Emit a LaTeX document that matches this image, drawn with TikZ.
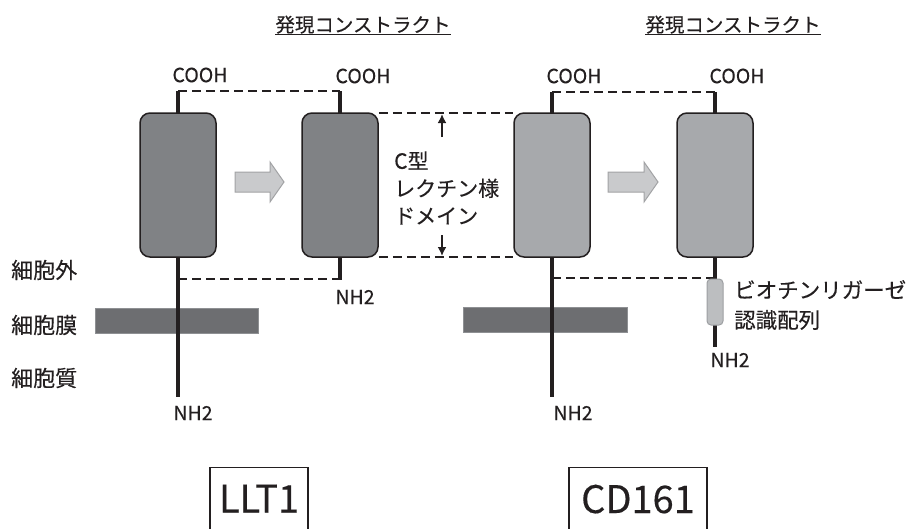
\documentclass[tikz,border=0pt]{standalone}
\usepackage{fontspec}
\setmainfont{Noto Sans CJK JP}[FakeBold=0.25]
\usetikzlibrary{arrows.meta}
\definecolor{darkbox}{HTML}{808285}
\definecolor{lightbox}{HTML}{A7A9AC}
\definecolor{membrane}{HTML}{6D6E71}
\definecolor{membraneedge}{HTML}{8E9093}
\definecolor{arrowfill}{HTML}{C9CACC}
\definecolor{arrowedge}{HTML}{A2A3A5}
\definecolor{pillfill}{HTML}{BCBEC0}
\definecolor{pilledge}{HTML}{9D9FA2}
\definecolor{ink}{HTML}{231F20}
\tikzset{
  protein/.style={rectangle, rounded corners=10, minimum width=76, minimum height=144, draw=ink, line width=1.5, inner sep=0},
  chainline/.style={line width=3.4, draw=ink},
  dashconn/.style={line width=2.1, draw=ink, dash pattern=on 9pt off 5pt},
  bigarrow/.style={draw=arrowedge, fill=arrowfill, line width=1},
  memb/.style={draw=membraneedge, fill=membrane, line width=0.8},
  chem/.style={font=\fontsize{19.5}{22}\selectfont, text=ink, inner sep=0},
  jp/.style={font=\fontsize{22}{27.5}\selectfont, text=ink, inner sep=0, align=left},
  header/.style={font=\fontsize{19.5}{22}\selectfont, text=ink, inner sep=0},
  namebox/.style={draw=ink, line width=1.3, font=\fontsize{38}{42}\selectfont, text=ink, anchor=north, inner ysep=17, text depth=40},
  dimarrow/.style={line width=1.8, draw=ink, -{Latex[length=9pt,width=9pt]}}
}
\begin{document}
\begin{tikzpicture}[x=1pt,y=-1pt]
\clip (0,0) rectangle (910,528);
\fill[white] (0,0) rectangle (910,528);

% headers
\node[header, anchor=base] (h1) at (363,32) {発現コンストラクト};
\node[header, anchor=base] (h2) at (733,32) {発現コンストラクト};
\draw[line width=1.4, ink] ([yshift=-2.5pt]h1.base west) -- ([yshift=-2.5pt]h1.base east);
\draw[line width=1.4, ink] ([yshift=-2.5pt]h2.base west) -- ([yshift=-2.5pt]h2.base east);

% chain coordinates
\coordinate (l1t) at (178,91);  \coordinate (l1b) at (178,397);
\coordinate (l2t) at (340,91);  \coordinate (l2b) at (340,280);
\coordinate (l3t) at (552,92);  \coordinate (l3b) at (552,397);
\coordinate (l4t) at (715,92);  \coordinate (l4b) at (715,347);

% membranes
\draw[memb] (95,308) rectangle (258,333);
\draw[memb] (463,307) rectangle (627,332);

% chains
\draw[chainline] (l1t) -- (l1b);
\draw[chainline] (l2t) -- (l2b);
\draw[chainline] (l3t) -- (l3b);
\draw[chainline] (l4t) -- (l4b);

% dashed guides
\coordinate (d1b) at (178,279); \coordinate (d2b) at (340,279);
\coordinate (d3b) at (552,278); \coordinate (d4b) at (715,278);
\draw[dashconn] (l1t) -- (l2t);
\draw[dashconn] (d1b) -- (d2b);
\draw[dashconn] (l3t) -- (l4t);
\draw[dashconn] (d3b) -- (d4b);

% protein domains
\node[protein, fill=darkbox] (b1) at (178,185) {};
\node[protein, fill=darkbox] (b2) at (340,185) {};
\node[protein, fill=lightbox] (b3) at (552,185) {};
\node[protein, fill=lightbox] (b4) at (715,185) {};

% domain guide lines
\draw[dashconn] ([yshift=-1pt]b2.north east) -- ([yshift=-1pt]b3.north west);
\draw[dashconn] ([yshift=1pt]b2.south east) -- ([yshift=1pt]b3.south west);
\coordinate (ua) at (442,137); \coordinate (ub) at (442,114);
\coordinate (da) at (442,235); \coordinate (db) at (442,256);
\draw[dimarrow] (ua) -- (ub);
\draw[dimarrow] (da) -- (db);
\node[jp, anchor=west, font=\fontsize{21}{27.5}\selectfont] (ctype) at (394,188) {C型\\レクチン様\\ドメイン};

% conversion arrows
\draw[bigarrow] (235,172) -- (270,172) -- (270,162) -- (284,182) -- (270,202) -- (270,192) -- (235,192) -- cycle;
\draw[bigarrow] (608,172) -- (644,172) -- (644,162) -- (658,182) -- (644,202) -- (644,192) -- (608,192) -- cycle;

% biotin ligase tag
\node[draw=pilledge, fill=pillfill, line width=1, rounded corners=4, minimum width=16, minimum height=46, inner sep=0] (pill) at (715,302) {};
\node[jp, anchor=west, font=\fontsize{21.5}{30}\selectfont] (biotin) at (734,305) {ビオチンリガーゼ\\認識配列};

% terminal labels
\node[chem] (c1) at (200,75) {COOH};
\node[chem] (c2) at (363,76) {COOH};
\node[chem] (c3) at (574,76) {COOH};
\node[chem] (c4) at (737,76) {COOH};
\node[chem] (n1) at (193,413) {NH2};
\node[chem] (n2) at (355,297) {NH2};
\node[chem] (n3) at (573,413) {NH2};
\node[chem] (n4) at (730,360) {NH2};

% compartment labels
\node[jp, anchor=west] (out) at (11,270) {細胞外};
\node[jp, anchor=west] (mem) at (11,325) {細胞膜};
\node[jp, anchor=west] (cyt) at (11,378) {細胞質};

% names
\node[namebox, minimum width=98] (llt1) at (259,467) {LLT1};
\node[namebox, minimum width=138] (cd161) at (638,467) {CD161};
\end{tikzpicture}
\end{document}
